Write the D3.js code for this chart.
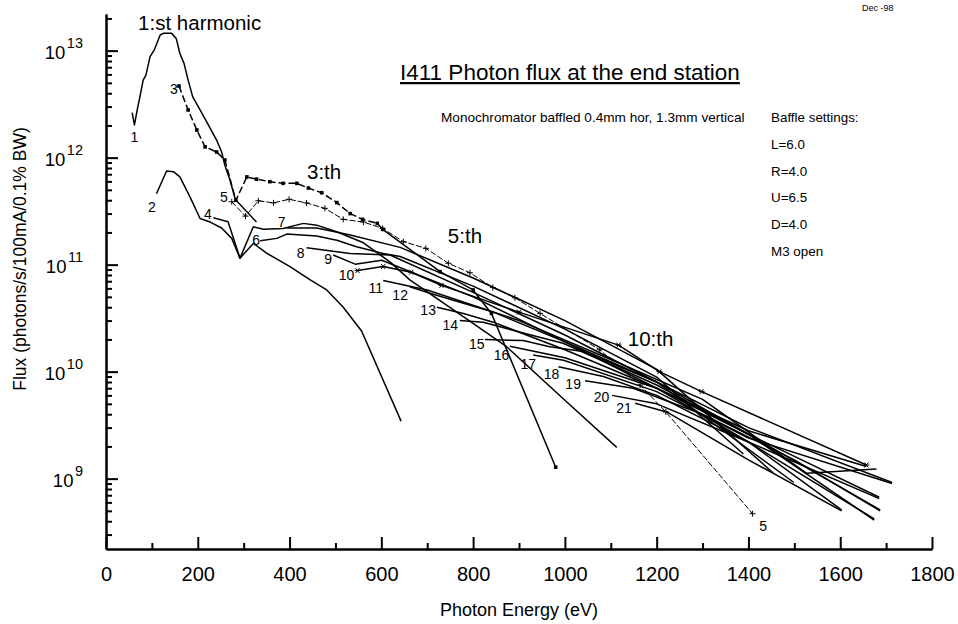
<!DOCTYPE html>
<html><head><meta charset="utf-8">
<script src="https://cdn.jsdelivr.net/npm/d3@7"></script>
<style>
body{margin:0;background:#fff;}
svg text{font-family:Arial,"Liberation Sans",Helvetica,sans-serif;fill:#000;}
</style></head><body>
<svg id="c" width="958" height="624"></svg>
<script>
// ---- data: [photon energy (eV), flux] ----
const h1 = [[57,2.63e12],[62,2.02e12],[68,2.79e12],[74,3.71e12],[81,5.3e12],[87,5.9e12],[96,8.8e12],[105,1.01e13],[118,1.4e13],[125,1.45e13],[143,1.45e13],[153,1.3e13],[161,9.4e12],[170,7.6e12],[179,5.3e12],[189,3.7e12],[205,2.79e12],[223,2.02e12],[241,1.46e12],[252,1.13e12],[259,8.5e11],[270,6.2e11],[281,4.2e11],[286,3.9e11],[328,2.5e11]];
const h2 = [[110,4.6e11],[132,7.5e11],[147,7.4e11],[161,6.6e11],[183,4.3e11],[205,2.7e11],[227,2.5e11],[252,2.2e11],[274,1.76e11],[292,1.15e11],[321,1.58e11],[350,1.28e11],[401,9.6e10],[445,7.2e10],[481,5.8e10],[517,4.0e10],[557,2.4e10],[643,3.45e9]];
const h3 = [[159,4.67e12],[179,2.79e12],[198,1.81e12],[216,1.26e12],[241,1.13e12],[259,9.5e11],[283,4.0e11],[307,6.6e11],[328,6.3e11],[357,5.96e11],[386,5.75e11],[416,5.75e11],[441,5.2e11],[470,4.7e11],[503,3.8e11],[532,3.0e11],[559,2.65e11],[591,2.43e11],[603,2.14e11],[728,8.6e10],[800,5.8e10],[840,3.5e10],[980,1.28e9]];
const h4 = [[234,2.74e11],[266,2.52e11],[292,1.15e11],[321,2.26e11],[343,2.14e11],[386,2.18e11],[430,2.43e11],[459,2.34e11],[503,2.03e11],[561,1.6e11],[620,1.05e11],[662,7.2e10],[773,3.4e10],[873,1.71e10],[1000,5.4e9],[1113,1.96e9]];
const h5 = [[274,3.87e11],[304,2.84e11],[332,3.95e11],[365,3.78e11],[399,4.08e11],[437,3.77e11],[477,3.36e11],[517,2.65e11],[561,2.5e11],[603,2.18e11],[648,1.64e11],[697,1.42e11],[746,1.03e11],[793,8.4e10],[843,6.1e10],[891,4.9e10],[946,3.5e10],[1076,1.6e10],[1164,7.5e9],[1220,4.2e9],[1409,4.7e8]];
const h6 = [[336,1.67e11],[372,1.76e11],[394,1.93e11],[459,1.85e11],[503,1.69e11],[546,1.47e11],[604,1.27e11],[641,1.19e11],[800,6.3e10],[1000,2.5e10],[1200,8.9e9],[1389,1.7e9]];
const h7 = [[394,2.2e11],[459,2.2e11],[530,1.9e11],[641,1.45e11],[800,7.5e10],[1000,3.0e10],[1200,1.05e10],[1454,1.13e9]];
const h8 = [[437,1.44e11],[532,1.27e11],[619,1.23e11],[800,5.5e10],[1000,2.2e10],[1200,8e9],[1499,9.2e8]];
const h9 = [[495,1.23e11],[543,1.01e11],[601,1.1e11],[800,5e10],[1000,1.9e10],[1200,7e9],[1400,2.2e9],[1603,5.1e8]];
const h10 = [[548,8.8e10],[604,9.6e10],[665,8.5e10],[731,6.4e10],[900,3.6e10],[1117,1.77e10],[1206,1.0e10],[1298,6.5e9],[1657,1.34e9]];
const h11 = [[604,7.1e10],[700,5.8e10],[900,3.0e10],[1100,1.3e10],[1300,5.5e9],[1527,1.12e9],[1679,1.23e9]];
const h12 = [[662,6.2e10],[706,5.4e10],[779,4.35e10],[844,3.6e10],[1000,1.9e10],[1200,8e9],[1400,3e9],[1713,9.2e8]];
const h13 = [[721,4.0e10],[779,3.5e10],[844,2.9e10],[1000,1.6e10],[1200,7e9],[1400,2.6e9],[1685,6.7e8]];
const h14 = [[771,3.0e10],[822,2.9e10],[909,2.3e10],[996,1.84e10],[1200,7.5e9],[1400,2.6e9],[1687,5.1e8]];
const h15 = [[826,2.0e10],[909,1.95e10],[967,1.71e10],[1040,1.54e10],[1200,8e9],[1400,2.6e9],[1674,4.1e8]];
const h16 = [[880,1.73e10],[1000,1.35e10],[1200,7e9],[1400,2.8e9],[1657,1.3e9]];
const h17 = [[931,1.43e10],[997,1.28e10],[1200,6.5e9],[1400,2.4e9],[1713,9e8]];
const h18 = [[986,1.11e10],[1084,9e9],[1200,6e9],[1400,2.2e9],[1685,6.5e8]];
const h19 = [[1044,8.2e9],[1149,7e9],[1300,4e9],[1500,1.5e9],[1687,5e8]];
const h20 = [[1103,6.0e9],[1200,5e9],[1400,2.2e9],[1674,4.2e8]];
const h21 = [[1153,5.06e9],[1222,4.2e9],[1400,1.5e9],[1603,5e8]];

// curve number labels: [text, eV, flux]
const curveLabels = [["1",62,1.57e12],["2",100,3.47e11],["3",148,4.35e12],["4",222,3.0e11],["5",257,4.26e11],["6",327,1.7e11],["7",383,2.48e11],["8",424,1.28e11],["9",484,1.12e11],["10",524,8.0e10],["11",588,6.0e10],["12",641,5.2e10],["13",702,3.8e10],["14",750,2.72e10],["15",808,1.81e10],["16",862,1.43e10],["17",920,1.18e10],["18",971,9.6e9],["19",1018,7.7e9],["20",1080,5.75e9],["21",1129,4.54e9],["5",1432,3.6e8]];
// harmonic annotations: [text, eV (left edge), flux (baseline)]
const harmonicNotes = [["1:st harmonic",70,1.56e13],["3:th",438,6.3e11],["5:th",745,1.59e11],["10:th",1137,1.73e10]];
const xMajor = [0,200,400,600,800,1000,1200,1400,1600,1800];
const xMinor = [100,300,500,700,900,1100,1300,1500,1700];
const yMajor = [1e9,1e10,1e11,1e12,1e13];
const baffle = ["Baffle settings:","L=6.0","R=4.0","U=6.5","D=4.0","M3 open"];

const curves = [h1,h2,h3,h4,h5,h6,h7,h8,h9,h10,h11,h12,h13,h14,h15,h16,h17,h18,h19,h20,h21];

const x = d3.scaleLinear().domain([0,1800]).range([106,932]);
const y = d3.scaleLog().domain([2.2e8,2.2e13]).range([549,14]);
const svg = d3.select('#c');
const FONT = 'Arial,"Liberation Sans",sans-serif';

// axes
const yMinor = y.ticks().filter(v => !yMajor.includes(v));
svg.append('g').attr('transform','translate(0,549)')
  .call(d3.axisBottom(x).tickValues(xMinor).tickSize(-6).tickSizeOuter(0).tickFormat(''));
const gx = svg.append('g').attr('transform','translate(0,549)')
  .call(d3.axisBottom(x).tickValues(xMajor).tickSize(-12).tickSizeOuter(0).tickPadding(18).tickFormat(d3.format('d')));
gx.selectAll('text').attr('font-size','20px').attr('font-family',FONT);
svg.append('g').attr('transform','translate(106,0)')
  .call(d3.axisLeft(y).tickValues(yMinor).tickSize(-6).tickSizeOuter(0).tickFormat(''));
const gy = svg.append('g').attr('transform','translate(106,0)')
  .call(d3.axisLeft(y).tickValues(yMajor).tickSize(-12).tickSizeOuter(0).tickPadding(23).tickFormat(''));
gy.selectAll('.tick text').each(function(d){
  const t = d3.select(this).attr('font-size','18.5px').attr('font-family',FONT).attr('dy','0.42em');
  t.append('tspan').text('10');
  t.append('tspan').attr('dx','1.5').attr('dy','-0.72em').attr('font-size','14.5px').text(Math.round(Math.log10(d)));
});
svg.selectAll('.domain').attr('stroke','#000').attr('stroke-width',2);
svg.selectAll('.tick line').attr('stroke','#000').attr('stroke-width',2);

// axis titles
svg.append('text').attr('x',519).attr('y',616).attr('text-anchor','middle').attr('font-size','18px').text('Photon Energy (eV)');
svg.append('text').attr('transform','translate(26,259) rotate(-90)').attr('text-anchor','middle').attr('font-size','17.5px').text('Flux (photons/s/100mA/0.1% BW)');

// curves
const line = d3.line().x(d=>x(d[0])).y(d=>y(d[1]));
const gc = svg.append('g').attr('fill','none').attr('stroke','#000').attr('stroke-linejoin','round');
curves.forEach((c,i)=>{
  if(i===2){
    gc.append('path').datum(c.slice(0,19)).attr('d',line).attr('stroke-width',1.5).attr('stroke-dasharray','7,3');
    gc.append('path').datum(c.slice(18)).attr('d',line).attr('stroke-width',1.5);
  } else if(i===4){
    gc.append('path').datum(c).attr('d',line).attr('stroke-width',1).attr('stroke-dasharray','6,2');
  } else {
    gc.append('path').datum(c).attr('d',line).attr('stroke-width',1.5);
  }
});
// markers
svg.append('g').selectAll('rect').data(h3).join('rect')
  .attr('x',d=>x(d[0])-1.8).attr('y',d=>y(d[1])-1.8).attr('width',3.6).attr('height',3.6).attr('fill','#000');
svg.append('g').selectAll('path').data(h5).join('path')
  .attr('transform',d=>`translate(${x(d[0])},${y(d[1])})`)
  .attr('d','M-3,0H3M0,-3V3').attr('stroke','#000').attr('stroke-width',1);
svg.append('g').selectAll('path').data(h10).join('path')
  .attr('transform',d=>`translate(${x(d[0])},${y(d[1])})`)
  .attr('d','M-3,0H3M-2,-2.5L2,2.5M-2,2.5L2,-2.5').attr('stroke','#000').attr('stroke-width',1);

// curve labels
svg.append('g').selectAll('text').data(curveLabels).join('text')
  .attr('x',d=>x(d[1])).attr('y',d=>y(d[2])).attr('dy','0.36em').attr('text-anchor','middle')
  .attr('font-size','14px').text(d=>d[0]);
// harmonic notes
svg.append('g').selectAll('text').data(harmonicNotes).join('text')
  .attr('x',d=>x(d[1])).attr('y',d=>y(d[2])).attr('font-size','20.5px').text(d=>d[0]);

// title and notes
svg.append('text').attr('x',400).attr('y',80).attr('font-size','22.5px').attr('text-decoration','underline').text('I411 Photon flux at the end station');
svg.append('text').attr('x',441).attr('y',122).attr('font-size','13.6px').text('Monochromator baffled 0.4mm hor, 1.3mm vertical');
svg.append('g').selectAll('text').data(baffle).join('text')
  .attr('x',771).attr('y',(d,i)=>122+i*26.8).attr('font-size','13.4px').text(d=>d);
svg.append('text').attr('x',862).attr('y',11).attr('font-size','9px').text('Dec -98');
</script>
</body></html>
